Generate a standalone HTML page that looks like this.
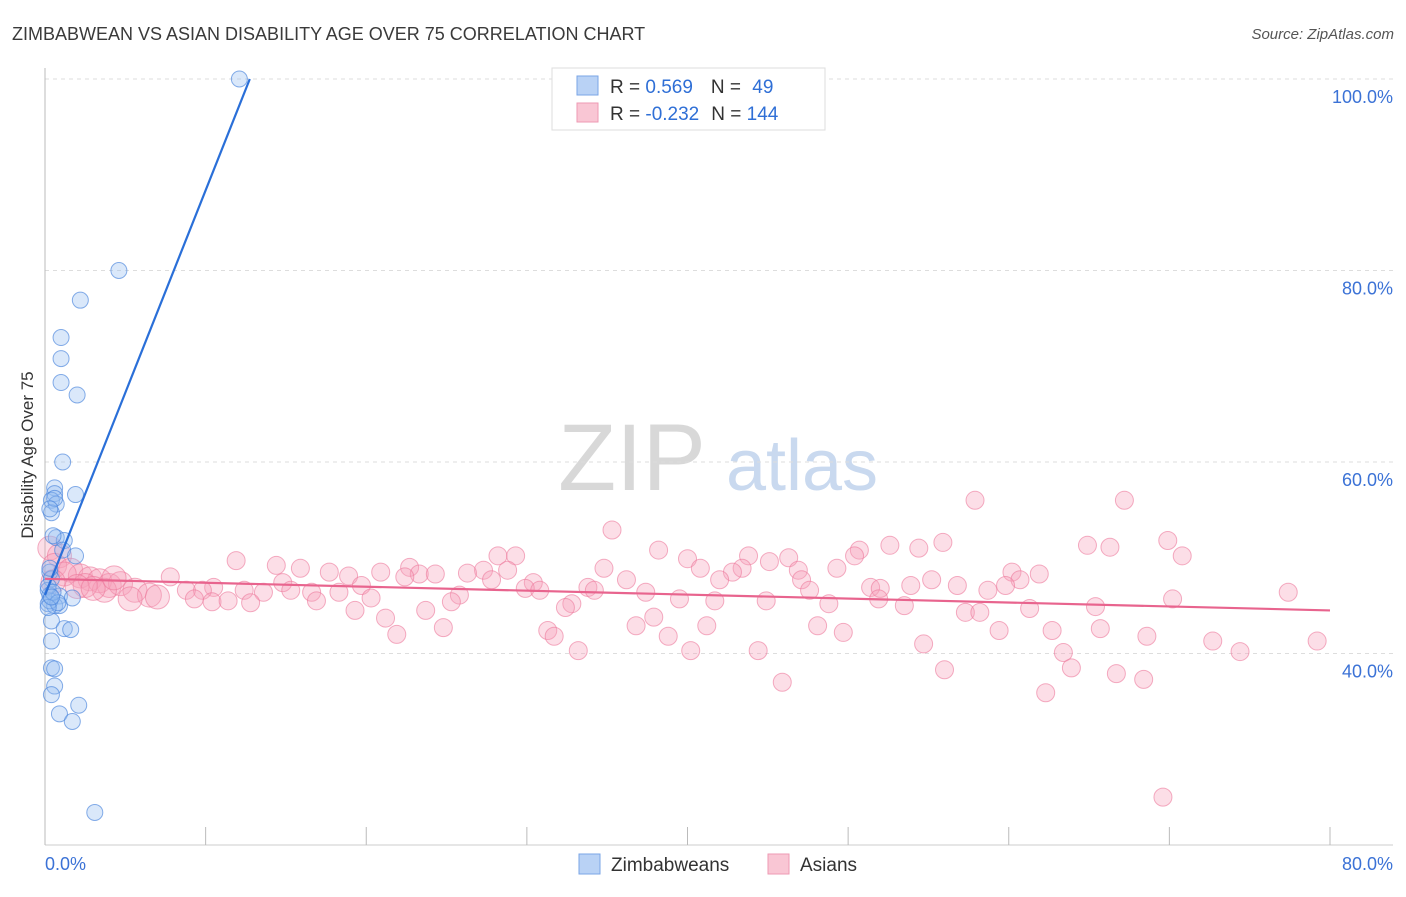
<!DOCTYPE html>
<html><head><meta charset="utf-8">
<style>
body{margin:0;background:#fff;font-family:"Liberation Sans",sans-serif;}
svg text{font-family:"Liberation Sans",sans-serif;}
</style></head><body>
<svg id="chart" width="1406" height="892" viewBox="0 0 1406 892" xmlns="http://www.w3.org/2000/svg">
<text x="12" y="40" font-size="18" fill="#3a3a3a">ZIMBABWEAN VS ASIAN DISABILITY AGE OVER 75 CORRELATION CHART</text>
<text x="1394" y="39" font-size="15" fill="#555" text-anchor="end" font-style="italic">Source: ZipAtlas.com</text>
<g>
<text x="632" y="490" font-size="95" fill="#d8d8d8" font-family="Liberation Serif" text-anchor="middle">ZIP</text>
<text x="802" y="490" font-size="72" fill="#c9d9ef" text-anchor="middle">atlas</text>
</g>
<g id="grid"></g>
<g id="axes"></g>
<g id="pink"></g>
<g id="blue"></g>
<g id="lines"></g>
<text transform="translate(33,455) rotate(-90)" font-size="17" fill="#333" text-anchor="middle">Disability Age Over 75</text>
<g>
<rect x="552" y="68" width="273" height="62" fill="#fff" stroke="#ddd"/>
<rect x="577" y="76" width="21" height="19" fill="#b9d2f5" stroke="#7aa5e6"/>
<rect x="577" y="103" width="21" height="19" fill="#f9c6d4" stroke="#ee9ab3"/>
<text x="610" y="93" font-size="19" fill="#333">R = <tspan fill="#2f6fd6">0.569</tspan><tspan dx="18">N = </tspan><tspan fill="#2f6fd6" dx="6">49</tspan></text>
<text x="610" y="120" font-size="19" fill="#333">R = <tspan fill="#2f6fd6">-0.232</tspan><tspan dx="12">N = </tspan><tspan fill="#2f6fd6">144</tspan></text>
</g>
<g>
<rect x="579" y="854" width="21" height="20" fill="#b9d2f5" stroke="#7aa5e6"/>
<text x="611" y="871" font-size="19" fill="#333">Zimbabweans</text>
<rect x="768" y="854" width="21" height="20" fill="#f9c6d4" stroke="#ee9ab3"/>
<text x="800" y="871" font-size="19" fill="#333">Asians</text>
</g>
</svg>
<script>
const yTicks=[40,60,80,100];
const yTickLabels=["40.0%","60.0%","80.0%","100.0%"];
const xTicks=[0,10,20,30,40,50,60,70,80];
const blueX=[12.1,4.6,2.2,1.0,1.0,1.0,2.0,1.1,0.6,0.6,1.9,0.4,0.7,0.4,0.7,1.2,1.1,1.9,0.3,0.4,0.2,0.3,0.9,1.7,0.2,0.6,0.9,0.4,1.2,1.6,0.4,0.4,0.6,0.6,0.4,0.9,2.1,1.7,3.1,0.2,0.3,0.5,0.8,0.3,0.5,0.2,0.4,0.6,0.3];
const blueY=[100,80.0,76.9,73.0,70.8,68.3,67.0,60.0,57.3,56.7,56.6,56.0,55.6,54.7,52.1,51.8,50.8,50.2,48.5,47.8,46.6,46.1,46.0,45.8,45.2,45.0,45.0,43.4,42.6,42.5,41.3,38.5,38.4,36.6,35.7,33.7,34.6,32.9,23.4,47.0,45.5,46.4,45.3,48.9,52.3,44.8,45.9,56.2,55.1];
const pinkX=[57.9,67.2,35.3,69.9,55.9,52.6,64.9,66.3,38.2,54.4,50.7,28.2,29.3,43.8,70.8,50.4,46.3,40.0,11.9,45.1,14.4,22.7,34.8,15.9,40.8,43.4,46.9,49.3,27.3,28.8,20.9,26.3,23.3,24.3,17.7,18.9,60.2,61.9,42.8,22.4,7.8,27.8,36.2,42.0,47.1,55.2,60.7,14.8,19.7,30.4,33.8,56.8,59.8,51.4,34.2,47.6,52.0,53.9,58.7,10.5,12.4,9.8,8.8,13.6,15.3,16.6,18.3,29.9,30.8,37.4,25.8,20.3,16.9,39.5,41.7,44.9,51.9,70.2,77.4,9.3,10.4,11.4,12.8,25.3,32.8,32.4,48.8,53.5,65.4,57.3,58.2,61.3,19.3,23.7,37.9,21.2,36.8,41.2,48.1,24.8,31.3,49.7,59.4,62.7,65.7,21.9,31.7,38.8,68.6,72.7,79.2,40.2,54.7,44.4,33.2,63.4,74.4,56.0,63.9,66.7,68.4,45.9,62.3,69.6,0.3,0.9,0.6,1.6,2.2,2.8,3.4,4.0,4.7,5.6,6.5,7.0,5.3,3.7,2.5,1.2,0.5,2.0,3.0,4.3];
const pinkY=[56.0,56.0,52.9,51.8,51.6,51.3,51.3,51.1,50.8,51.0,50.8,50.2,50.2,50.2,50.2,50.2,50.0,49.9,49.7,49.6,49.2,49.0,48.9,48.9,48.9,48.9,48.7,48.9,48.7,48.7,48.5,48.4,48.3,48.3,48.5,48.1,48.5,48.3,48.5,48.0,48.0,47.7,47.7,47.7,47.7,47.7,47.7,47.4,47.1,47.4,46.9,47.1,47.1,46.9,46.6,46.6,46.8,47.1,46.6,46.9,46.6,46.6,46.6,46.4,46.6,46.4,46.4,46.8,46.6,46.4,46.1,45.8,45.5,45.7,45.5,45.5,45.7,45.7,46.4,45.7,45.4,45.5,45.3,45.4,45.2,44.8,45.2,45.0,44.9,44.3,44.3,44.7,44.5,44.5,43.8,43.7,42.9,42.9,42.9,42.7,42.4,42.2,42.4,42.4,42.6,42.0,41.8,41.8,41.8,41.3,41.3,40.3,41.0,40.3,40.3,40.1,40.2,38.3,38.5,37.9,37.3,37.0,35.9,25.0,51.0,50.2,49.2,48.7,48.1,47.8,47.6,47.1,47.3,46.6,46.1,45.9,45.7,46.6,47.1,48.3,47.5,47.0,46.8,47.9];
const blueTrend=[[0,46.1],[12.75,100]];
const pinkTrend=[[0,47.8],[80,44.5]];

const NS="http://www.w3.org/2000/svg";
const X0=45,X1=1330,Y0=845,YTOP=79;
function sx(v){return X0+(X1-X0)*v/80;}
function sy(v){return Y0-(Y0-YTOP)*(v-20)/80;}
function mk(tag,attrs,parent){const e=document.createElementNS(NS,tag);for(const k in attrs)e.setAttribute(k,attrs[k]);parent.appendChild(e);return e;}
const grid=document.getElementById('grid'),axes=document.getElementById('axes');
yTicks.forEach((t,i)=>{
 const l=mk('line',{x1:X0,x2:1393,y1:sy(t),y2:sy(t),stroke:'#ddd','stroke-dasharray':'4,4'},grid);
 
 
 const tx=mk('text',{x:1393,y:sy(t)+24,'font-size':18,fill:'#3b72d6','text-anchor':'end'},axes);
 tx.textContent=yTickLabels[i];
 
 
});
const la=mk('line',{x1:X0,x2:X0,y1:68,y2:Y0,stroke:'#bbb'},axes);


const ba=mk('line',{x1:X0,x2:1393,y1:Y0,y2:Y0,stroke:'#ccc'},axes);


xTicks.forEach(t=>{
 const l=mk('line',{x1:sx(t),x2:sx(t),y1:827,y2:Y0,stroke:'#bbb'},axes);
 
 
});
const xl0=mk('text',{x:45,y:870,'font-size':18,fill:'#3b72d6'},axes);xl0.textContent='0.0%';


const xl1=mk('text',{x:1393,y:870,'font-size':18,fill:'#3b72d6','text-anchor':'end'},axes);xl1.textContent='80.0%';


const pg=document.getElementById('pink');
pinkX.forEach((v,i)=>{
 const r=v<7.5?12:9;
 const c=mk('circle',{cx:sx(v),cy:sy(pinkY[i]),r:r,fill:'rgba(246,160,186,0.35)',stroke:'rgba(236,120,155,0.6)','stroke-width':1},pg);
 
 
});
const bg=document.getElementById('blue');
blueX.forEach((v,i)=>{
 const c=mk('circle',{cx:sx(v),cy:sy(blueY[i]),r:8,fill:'rgba(150,190,240,0.35)',stroke:'rgba(70,130,220,0.65)','stroke-width':1},bg);
 
 
});
const lg=document.getElementById('lines');
const bl=mk('line',{x1:sx(blueTrend[0][0]),y1:sy(blueTrend[0][1]),x2:sx(blueTrend[1][0]),y2:sy(blueTrend[1][1]),stroke:'#2a6fd8','stroke-width':2.2},lg);


const pl=mk('line',{x1:sx(pinkTrend[0][0]),y1:sy(pinkTrend[0][1]),x2:sx(pinkTrend[1][0]),y2:sy(pinkTrend[1][1]),stroke:'#e8648e','stroke-width':2.2},lg);


</script>
</body></html>
